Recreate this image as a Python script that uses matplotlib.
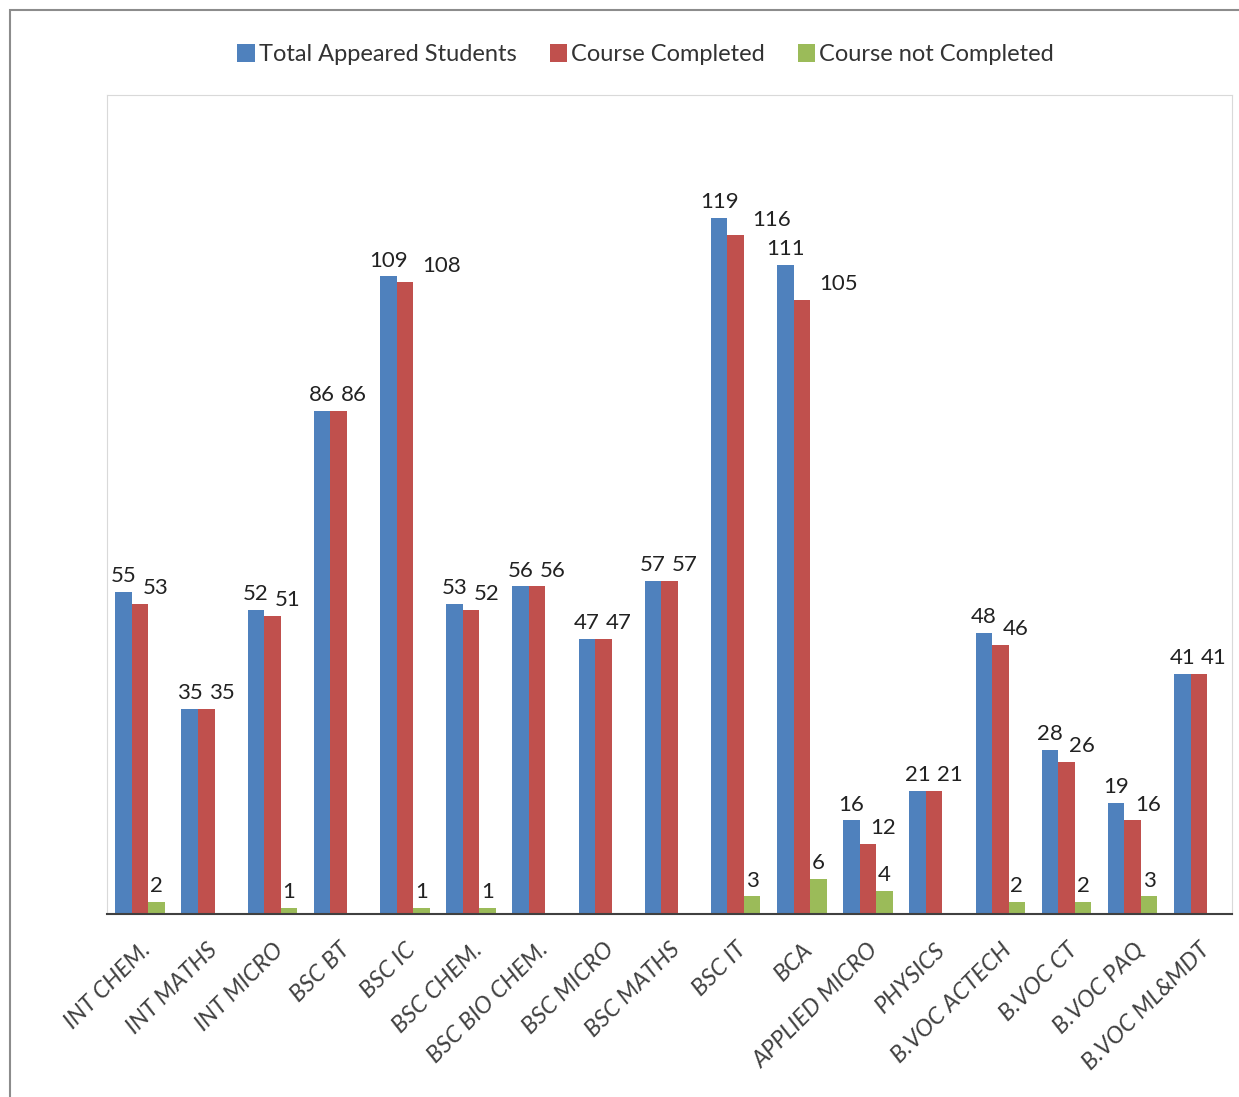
import matplotlib; matplotlib.use('agg')
import matplotlib.pyplot as plt
import numpy as np
from matplotlib.patches import Rectangle

# Data
courses = ['INT CHEM.', 'INT MATHS', 'INT MICRO', 'BSC BT', 'BSC IC',
           'BSC CHEM.', 'BSC BIO CHEM.', 'BSC MICRO', 'BSC MATHS', 'BSC IT',
           'BCA', 'APPLIED MICRO', 'PHYSICS', 'B.VOC ACTECH', 'B.VOC CT',
           'B.VOC PAQ', 'B.VOC ML&MDT']
total_appeared = [55, 35, 52, 86, 109, 53, 56, 47, 57, 119, 111, 16, 21, 48, 28, 19, 41]
completed = [53, 35, 51, 86, 108, 52, 56, 47, 57, 116, 105, 12, 21, 46, 26, 16, 41]
not_completed = [2, 0, 1, 0, 1, 1, 0, 0, 0, 3, 6, 4, 0, 2, 2, 3, 0]

series_names = ['Total Appeared Students', 'Course Completed', 'Course not Completed']
COLORS = ['#4F81BD', '#C0504D', '#9BBB59']

plt.rcParams['font.family'] = ['Lato', 'DejaVu Sans']

fig = plt.figure(figsize=(12.39, 10.97), dpi=100)
ax = fig.add_axes([0.0864, 0.1668, 0.9079, 0.7466])

x = np.arange(len(courses))
width = 0.25
all_series = [total_appeared, completed, not_completed]

for i, (vals, name, color) in enumerate(zip(all_series, series_names, COLORS)):
    pos = x + (i - 1) * width
    ax.bar(pos, vals, width=width, color=color, label=name, zorder=2)
    for p, v in zip(pos, vals):
        if v == 0:
            continue
        # excel-ish label placement: completed labels nudged to the right
        dx = 0.0
        if i == 1:
            dx = 0.55 if v >= 100 else 0.23
        ax.text(p + dx, v + 1.0, str(v), ha='center', va='bottom',
                fontsize=16, color='#222222')

ax.set_xlim(-0.5, len(courses) - 0.5)
ax.set_ylim(0, 140)
ax.set_yticks([])
ax.set_xticks(x)
ax.set_xticklabels(courses, rotation=45, ha='right', rotation_mode='anchor',
                   fontstyle='italic', fontsize=17, color='#404040')
ax.tick_params(axis='x', length=0, pad=18)

for side in ['top', 'right', 'left']:
    ax.spines[side].set_color('#d9d9d9')
ax.spines['bottom'].set_color('#404040')
ax.spines['bottom'].set_linewidth(1.5)

leg = fig.legend(loc='upper center', bbox_to_anchor=(0.521, 0.979), ncol=3,
                 frameon=False, fontsize=17, handlelength=0.75, handleheight=0.75,
                 handletextpad=0.15, columnspacing=1.4, labelcolor='#333333')

# outer chart frame
fig.patches.append(Rectangle((10 / 1239, -0.1), 1.2, 1.1 - 10 / 1097,
                             transform=fig.transFigure, fill=False,
                             edgecolor='#8c8c8c', linewidth=1.5))

fig.savefig('out.png', dpi=100)
